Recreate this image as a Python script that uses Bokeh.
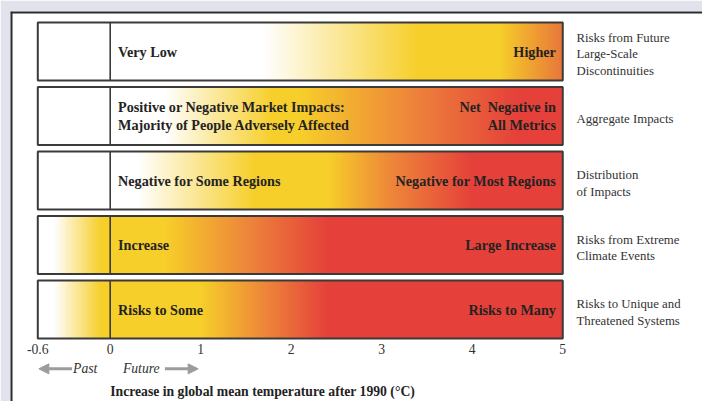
import numpy as np
from bokeh.plotting import figure
from bokeh.models import Range1d, Arrow, NormalHead, ColumnDataSource
from bokeh.core.properties import value
from bokeh.embed import file_html
from bokeh.resources import INLINE

# ---------------- data ----------------
row_titles = [
    ["Risks from Future", "Large-Scale", "Discontinuities"],
    ["Aggregate Impacts"],
    ["Distribution", "of Impacts"],
    ["Risks from Extreme", "Climate Events"],
    ["Risks to Unique and", "Threatened Systems"],
]
low_labels = [
    ["Very Low"],
    ["Positive or Negative Market Impacts:", "Majority of People Adversely Affected"],
    ["Negative for Some Regions"],
    ["Increase"],
    ["Risks to Some"],
]
high_labels = [
    ["Higher"],
    ["Net\u00a0 Negative in", "All Metrics"],
    ["Negative for Most Regions"],
    ["Large Increase"],
    ["Risks to Many"],
]
tick_values = [-0.8, 0, 1, 2, 3, 4, 5]
tick_labels = ["-0.6", "0", "1", "2", "3", "4", "5"]
temp_start = -0.8      # left edge (labelled -0.6)
temp_now = 0.0
temp_end = 5.0
axis_title = "Increase in global mean temperature after 1990 (\u00b0C)"

# colour ramps (temperature of each stop, colour of each stop) per row
grad_temps = [
    [-0.8, 1.7, 3.4, 4.3, 5.0],
    [-0.8, 0.6, 1.8, 2.1, 3.3, 4.5, 5.0],
    [-0.8, 0.3, 1.6, 2.4, 3.1, 4.0, 5.0],
    [-0.8, -0.62, -0.1, 0.6, 1.5, 2.4, 5.0],
    [-0.8, -0.62, -0.1, 1.0, 1.7, 2.4, 5.0],
]
W, Y, O, R, O2 = "#ffffff", "#f7cf2a", "#ee873a", "#e5413a", "#e8763a"
grad_colors = [
    [W, W, Y, Y, O2],
    [W, W, Y, Y, O, R, R],
    [W, W, Y, Y, O, R, R],
    [W, W, Y, Y, O, R, R],
    [W, W, Y, Y, O, R, R],
]

# ---------------- layout ----------------
PX_C = 92.6          # reference pixels per degree
PX_ROW = 67.15       # reference pixels per row
BAR_H = 0.9
n = len(row_titles)
row_y = [n - 1 - i for i in range(n)]
X0, X1 = -1.1015, 6.544
Y0, Y1 = -1.425, 4.621

p = figure(width=702, height=401, x_range=Range1d(X0, X1), y_range=Range1d(Y0, Y1),
           output_backend="svg", toolbar_location=None,
           x_axis_location=None, y_axis_location=None,
           background_fill_color="white", border_fill_color="#e2e2ec")
p.min_border = 0
p.min_border_left = 10
p.min_border_top = 11
p.grid.visible = False
p.outline_line_color = None


def hex2rgb(h):
    h = h.lstrip("#")
    return [int(h[k:k + 2], 16) for k in (0, 2, 4)]


N = 700
xs = np.linspace(temp_start, temp_end, N)
imgs = []
for temps, cols in zip(grad_temps, grad_colors):
    rgb = np.array([hex2rgb(c) for c in cols], dtype=float)
    img = np.empty((1, N), dtype=np.uint32)
    view = img.view(dtype=np.uint8).reshape((1, N, 4))
    for ch in range(3):
        view[0, :, ch] = np.clip(np.interp(xs, temps, rgb[:, ch]), 0, 255).astype(np.uint8)
    view[0, :, 3] = 255
    imgs.append(img)

p.image_rgba(image=imgs, x=[temp_start] * n, y=[y - BAR_H / 2 for y in row_y],
             dw=[temp_end - temp_start] * n, dh=[BAR_H] * n)

# bar outlines and the "now" line
p.rect(x=[(temp_start + temp_end) / 2] * n, y=row_y, width=temp_end - temp_start,
       height=BAR_H, fill_color=None, line_color="#3a3a3a", line_width=2)
p.segment(x0=[temp_now] * n, y0=[y - BAR_H / 2 for y in row_y],
          x1=[temp_now] * n, y1=[y + BAR_H / 2 for y in row_y],
          line_color="#3a3a3a", line_width=1.6)

# panel border (top & left)
p.segment(x0=[X0, X0], y0=[Y0, Y1], x1=[X0, X1], y1=[Y1, Y1],
          line_color="#2b2b2b", line_width=4)

FONT = value("Liberation Serif")


def multiline(groups, x, dy_px=0.0, spacing_px=18.0):
    X, Yv, T = [], [], []
    for lines, yc in zip(groups, row_y):
        m = len(lines)
        for k, t in enumerate(lines):
            off = (k - (m - 1) / 2) * spacing_px + dy_px
            X.append(x)
            Yv.append(yc - off / PX_ROW)
            T.append(t)
    return ColumnDataSource(dict(x=X, y=Yv, text=T))


p.text(x="x", y="y", text="text", source=multiline(low_labels, 8 / PX_C, 0, 18.3),
       text_font=FONT, text_font_style="bold", text_font_size="14.2px",
       text_color="#232323", text_align="left", text_baseline="middle")
p.text(x="x", y="y", text="text", source=multiline(high_labels, temp_end - 7 / PX_C, 0, 18.3),
       text_font=FONT, text_font_style="bold", text_font_size="14.2px",
       text_color="#232323", text_align="right", text_baseline="middle")
p.text(x="x", y="y", text="text", source=multiline(row_titles, temp_end + 14 / PX_C, 3, 17.3),
       text_font=FONT, text_font_size="12.8px",
       text_color="#333333", text_align="left", text_baseline="middle")

# tick labels
tick_y = row_y[-1] - (362 - 321.3) / PX_ROW
p.text(x=tick_values, y=[tick_y] * len(tick_values), text=tick_labels,
       text_font=FONT, text_font_size="13.7px", text_color="#333333",
       text_align="center", text_baseline="middle")

# Past / Future
pf_y = row_y[-1] - (383 - 321.3) / PX_ROW
p.text(x=[-38 / PX_C, 13 / PX_C], y=[pf_y, pf_y], text=["Past", "Future"],
       text_font=FONT, text_font_style="italic", text_font_size="13.7px",
       text_color="#333333", text_align="left", text_baseline="middle")
gray = "#9c9c9c"
p.add_layout(Arrow(end=NormalHead(size=10, fill_color=gray, line_color=gray),
                   x_start=-39 / PX_C, y_start=pf_y, x_end=-73 / PX_C, y_end=pf_y,
                   line_color=gray, line_width=3))
p.add_layout(Arrow(end=NormalHead(size=10, fill_color=gray, line_color=gray),
                   x_start=56 / PX_C, y_start=pf_y, x_end=90 / PX_C, y_end=pf_y,
                   line_color=gray, line_width=3))

# axis title
title_y = row_y[-1] - (407 - 321.3) / PX_ROW
p.text(x=[temp_now], y=[title_y], text=[axis_title],
       text_font=FONT, text_font_style="bold", text_font_size="13.7px",
       text_color="#232323", text_align="left", text_baseline="middle")

open("out.html", "w").write(file_html(p, INLINE))
